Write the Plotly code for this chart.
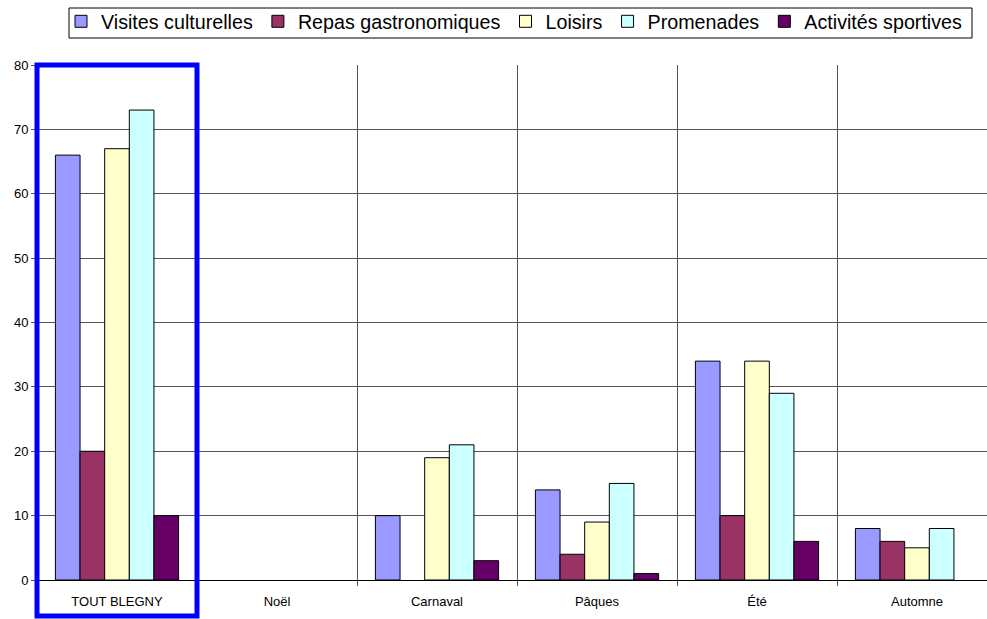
import plotly.graph_objects as go

categories = ["TOUT BLEGNY", "Noël", "Carnaval", "Pâques", "Été", "Automne"]
series_names = ["Visites culturelles", "Repas gastronomiques", "Loisirs", "Promenades", "Activités sportives"]
visites = [66, 0, 10, 14, 34, 8]
repas = [20, 0, 0, 4, 10, 6]
loisirs = [67, 0, 19, 9, 34, 5]
promenades = [73, 0, 21, 15, 29, 8]
sportives = [10, 0, 3, 1, 6, 0]
colors = ["#9999FF", "#993366", "#FFFFCC", "#CCFFFF", "#660066"]
y_ticks = [0, 10, 20, 30, 40, 50, 60, 70, 80]

values = [visites, repas, loisirs, promenades, sportives]
fig = go.Figure()
for name, vals, col in zip(series_names, values, colors):
    fig.add_trace(go.Bar(x=categories, y=[v if v else None for v in vals], name=name,
                         marker=dict(color=col, line=dict(color="#000000", width=1))))

W, H = 987, 619
x_range = [-0.5, 5.4375]
L, R, T, B = 37, 0, 65, 39
fig.update_layout(
    width=W, height=H,
    margin=dict(l=L, r=R, t=T, b=B, autoexpand=False),
    paper_bgcolor="white", plot_bgcolor="white",
    barmode="group", bargap=0.23, bargroupgap=0,
    font=dict(family="Liberation Sans, Arial, sans-serif", color="#000000", size=13),
    legend=dict(orientation="h", x=61 / W, xanchor="left", xref="container",
                y=1 - 2 / H, yref="container", yanchor="top",
                borderwidth=0, bgcolor="rgba(0,0,0,0)",
                font=dict(size=19.7), traceorder="normal",
                itemwidth=30),
    xaxis=dict(range=x_range, type="category", tickson="boundaries",
               showgrid=True, gridcolor="#555555", gridwidth=1,
               showline=True, linecolor="#000000", linewidth=1,
               ticks="outside", ticklen=5, tickcolor="#555555",
               ticklabelstandoff=9,
               tickfont=dict(size=13), fixedrange=True, automargin=False),
    yaxis=dict(range=[0, 80], tickvals=y_ticks, showgrid=True, gridcolor="#555555", gridwidth=1,
               showline=True, linecolor="#000000", linewidth=1,
               ticks="outside", ticklen=5, tickcolor="#555555",
               tickfont=dict(size=13), zeroline=False, automargin=False),
)

# legend frame
fig.add_shape(type="rect", xref="paper", yref="paper",
              x0=(69 - L) / (W - L - R), x1=(972 - L) / (W - L - R),
              y0=(H - B - 38) / (H - T - B), y1=(H - B - 8) / (H - T - B),
              line=dict(color="#000000", width=1), layer="above")

# highlight frame around the first category
span = x_range[1] - x_range[0]
px0 = (-0.5 - x_range[0]) / span
px1 = (0.5 - x_range[0]) / span
fig.add_shape(type="rect", xref="paper", yref="paper",
              x0=px0, x1=px1, y0=-0.07, y1=1.0,
              line=dict(color="#0000FF", width=5), layer="above")

fig.write_html("out.html", config={"displayModeBar": False},
               post_script="document.body.style.margin='0';document.body.style.overflow='hidden';")
